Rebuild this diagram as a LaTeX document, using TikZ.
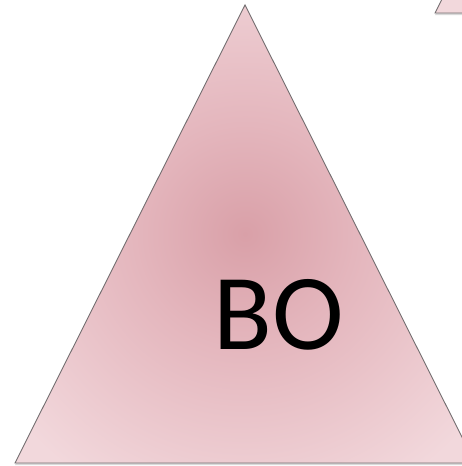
\documentclass[tikz,border=0pt]{standalone}
\usepackage{fontspec}
\setmainfont{Carlito}
\usetikzlibrary{shadows}
\definecolor{bocenter}{RGB}{217,160,168}
\definecolor{bomid}{RGB}{228,182,189}
\definecolor{boedge}{RGB}{242,216,220}
\definecolor{boline}{RGB}{115,110,112}
\pgfdeclareradialshading{bopink}{\pgfpoint{0bp}{0bp}}{color(0bp)=(bocenter); color(12bp)=(bomid); color(32bp)=(boedge); color(50bp)=(boedge)}

\begin{document}
\begin{tikzpicture}[x=1pt,y=-1pt,
  tri/.style={draw=boline,line width=0.9pt,line join=miter,
    drop shadow={opacity=0.3,shadow xshift=0pt,shadow yshift=-2pt}},
  botext/.style={font=\fontsize{108}{108}\selectfont,inner sep=0pt}]
\useasboundingbox (0,0) rectangle (462,466);
\clip (0,0) rectangle (462,466);
% the next triangle, only its corner shows
\coordinate (nextleft) at (435,13);
\coordinate (nexttop) at (665,-445);
\coordinate (nextright) at (895,13);
\filldraw[tri,fill=boedge] (nextleft) -- (nexttop) -- (nextright) -- cycle;
% main triangle
\coordinate (top) at (245,5);
\coordinate (left) at (15,463);
\coordinate (right) at (475,463);
\shade[tri,shading=bopink] (left) -- (top) -- (right) -- cycle;
\node[botext] (bo) at (278.5,315) {BO};
\end{tikzpicture}
\end{document}
